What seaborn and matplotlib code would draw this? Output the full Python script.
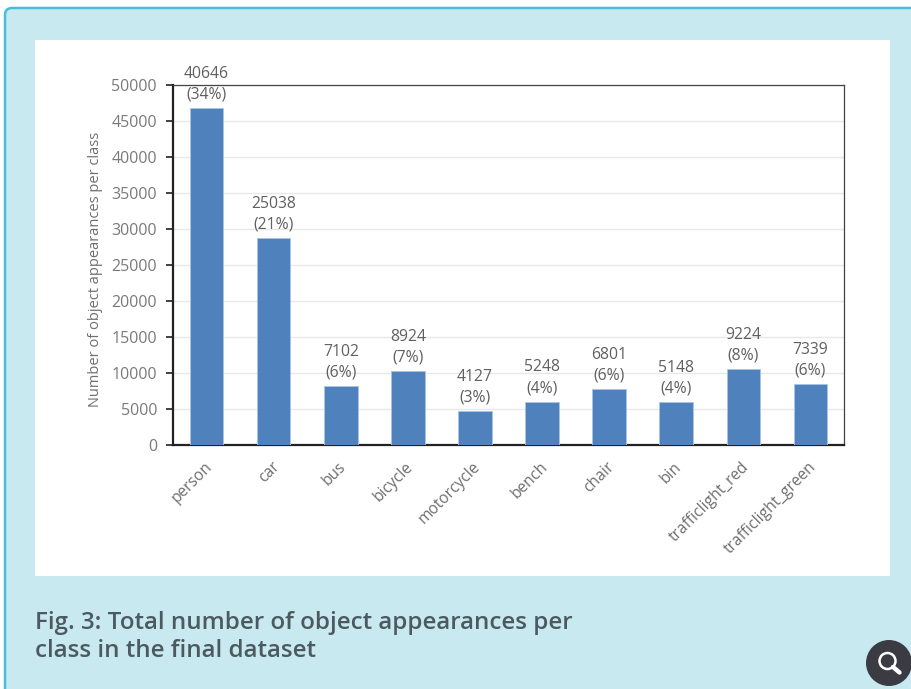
import matplotlib
matplotlib.use("Agg")
import matplotlib.pyplot as plt
from matplotlib.patches import FancyBboxPatch, Rectangle, Circle
from matplotlib.transforms import ScaledTranslation
import pandas as pd
import seaborn as sns

categories = ["person", "car", "bus", "bicycle", "motorcycle", "bench", "chair", "bin",
              "trafficlight_red", "trafficlight_green"]
bar_values = [46750, 28800, 8150, 10250, 4750, 6030, 7820, 5920, 10600, 8440]
label_counts = [40646, 25038, 7102, 8924, 4127, 5248, 6801, 5148, 9224, 7339]
label_shares = [34, 21, 6, 7, 3, 4, 6, 4, 8, 6]
y_ticks = list(range(0, 50001, 5000))
y_title = "Number of object appearances per class"
caption = "Fig. 3: Total number of object appearances per\nclass in the final dataset"

W, H = 911, 689
sns.set_theme(style="white")
plt.rcParams["font.family"] = ["Open Sans", "DejaVu Sans"]
fig = plt.figure(figsize=(W / 100, H / 100), dpi=100, facecolor="white")

# Page furniture drawn in pixel coordinates
bg = fig.add_axes([0, 0, 1, 1], zorder=0)
bg.set_xlim(0, W)
bg.set_ylim(H, 0)
bg.axis("off")
bg.add_patch(FancyBboxPatch((5, 8), W + 40, H + 40, boxstyle="round,pad=0,rounding_size=7",
                            fc="#c8e9f0", ec="#45c0d6", lw=1.8))
bg.add_patch(Rectangle((35, 40), 855, 536, fc="white", ec="none"))
bg.text(35, 637, caption, fontsize=17.35, fontweight=600, color="#4c5a60", va="center",
        ha="left", linespacing=1.22, family=["Open Sans", "DejaVu Sans"])
bg.add_patch(Circle((889, 663), 23, fc="#3b3b43", ec="none"))
bg.add_patch(Circle((887.5, 661), 8, fc="none", ec="white", lw=1.8))
bg.plot([893, 899.5], [667, 672.5], color="white", lw=3.2, solid_capstyle="round")

# Chart
ax = fig.add_axes([173 / W, 1 - 445 / H, 671 / W, 360 / H], zorder=1)
ax.set_facecolor("none")
df = pd.DataFrame({"category": categories, "value": bar_values})
sns.barplot(data=df, x="category", y="value", color="#4f81bd", saturation=1, width=0.5,
            edgecolor="#a9c4e6", linewidth=0.6, ax=ax, zorder=3)
ax.set_xlim(-0.5, len(categories) - 0.5)
ax.set_ylim(0, 50000)
ax.set_yticks(y_ticks)
ax.grid(axis="y", color="#e8e8e8", lw=1, zorder=0)
ax.set_axisbelow(True)
ax.set_xlabel("")
ax.set_ylabel(y_title, fontsize=10.5, color="#6e6e6e", labelpad=6, y=0.487)
ax.tick_params(axis="y", left=True, length=5, width=1.2, color="#222222",
               labelsize=11.5, labelcolor="#7a7a7a", pad=6.5)
ax.tick_params(axis="x", bottom=False, length=0, labelsize=11.2, labelcolor="#6e6e6e", pad=10)
shift = ScaledTranslation(-2.5 / 100, 0, fig.dpi_scale_trans)
for t in ax.get_xticklabels():
    t.set_rotation(45)
    t.set_ha("right")
    t.set_rotation_mode("anchor")
    t.set_transform(t.get_transform() + shift)
for side in ("left", "bottom"):
    ax.spines[side].set_color("#222222")
    ax.spines[side].set_linewidth(1.6)
for side in ("top", "right"):
    ax.spines[side].set_color("#444444")
    ax.spines[side].set_linewidth(0.9)

for i, (v, n, s) in enumerate(zip(bar_values, label_counts, label_shares)):
    ax.annotate(f"{n}\n({s}%)", xy=(i, v), xytext=(0, 4), textcoords="offset points",
                ha="center", va="bottom", fontsize=11.3, color="#606060",
                linespacing=1.38, annotation_clip=False, zorder=5)

fig.savefig("out.png", dpi=100, facecolor=fig.get_facecolor())
